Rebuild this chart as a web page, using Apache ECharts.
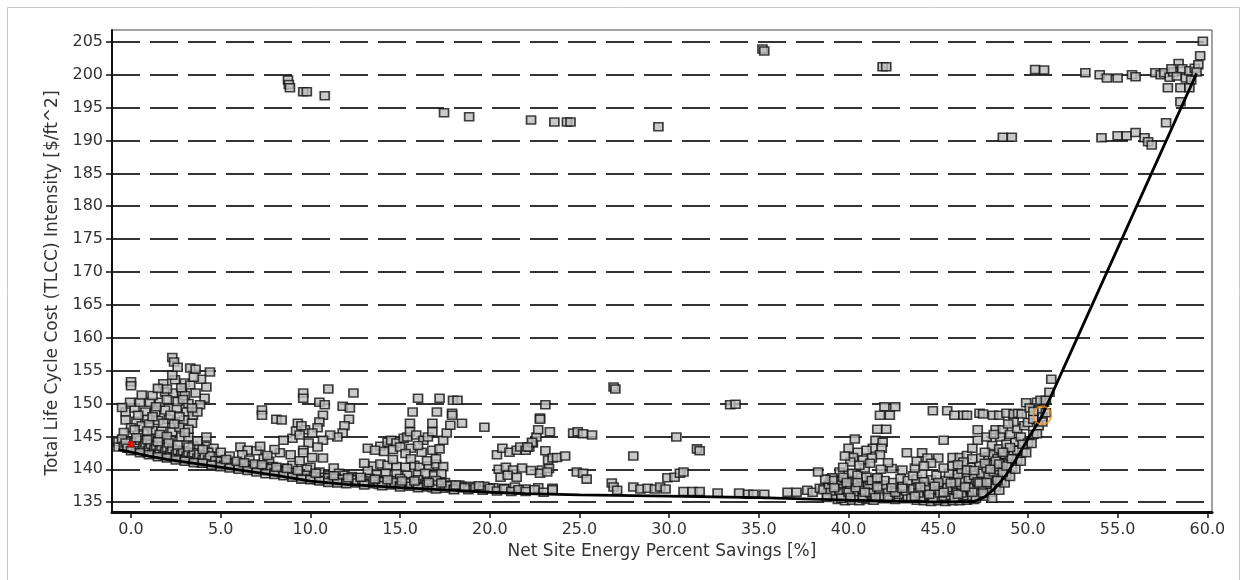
<!DOCTYPE html>
<html>
<head>
<meta charset="utf-8">
<title>TLCC Intensity vs Net Site Energy Savings</title>
<script src="https://cdn.jsdelivr.net/npm/echarts@6/dist/echarts.min.js"></script>
<style>
  html, body { margin: 0; padding: 0; background: #fff; }
  #chart { width: 1247px; height: 580px; }
</style>
</head>
<body>
<div id="chart"></div>
<script>
// tick values
var xTicks = [0, 5, 10, 15, 20, 25, 30, 35, 40, 45, 50, 55, 60];
var yTicks = [135, 140, 145, 150, 155, 160, 165, 170, 175, 180, 185, 190, 195, 200, 205];

// pareto front
var frontLine = [
  [-0.7, 143.0], [0, 142.6], [1, 142.0], [2, 141.5], [4, 140.7], [6, 139.9], [8, 139.1],
  [10, 138.2], [12, 137.7], [15, 137.2], [18, 136.8], [20, 136.5], [22, 136.3], [25, 136.1],
  [30, 135.9], [35, 135.7], [40, 135.3], [45, 135.0], [47, 135.1], [47.6, 135.8], [48.2, 137.2],
  [48.8, 139.2], [49.4, 141.8], [50.0, 144.6], [50.5, 146.8], [50.8, 148.2], [59.4, 200.2]
];

// dense band just above the front
var bandPts = [
  [-0.7, 144.2], [-0.7, 143.4], [-0.5, 144.6], [-0.4, 143.5], [-0.3, 144.0], [-0.2, 143.2], [0.1, 143.1],
  [0.2, 144.1], [0.3, 142.9], [0.4, 143.6], [0.5, 144.4], [0.6, 142.8], [0.7, 143.4], [0.8, 144.0],
  [0.9, 142.5], [1.0, 143.1], [1.1, 143.8], [1.2, 142.4], [1.3, 143.0], [1.4, 143.6], [1.5, 142.2],
  [1.6, 142.9], [1.7, 143.5], [1.8, 142.0], [1.9, 142.7], [2.0, 143.3], [2.1, 141.9], [2.2, 142.5],
  [2.3, 143.1], [2.4, 141.8], [2.5, 142.3], [2.6, 142.9], [2.7, 141.6], [2.8, 142.2], [2.9, 142.8],
  [3.0, 141.5], [3.1, 142.0], [3.2, 142.6], [3.3, 141.3], [3.4, 141.9], [3.5, 142.5], [3.6, 141.2],
  [3.7, 141.7], [3.8, 142.3], [3.9, 141.0], [4.0, 141.5], [4.1, 142.1], [4.2, 140.9], [4.3, 141.4],
  [4.4, 142.0], [4.5, 140.8], [4.7, 141.3], [4.9, 140.7], [5.0, 141.2], [5.2, 140.6], [5.4, 141.0],
  [5.6, 140.5], [5.8, 140.9], [6.0, 140.3], [6.2, 140.8], [6.4, 140.2], [6.6, 140.6], [6.8, 140.0],
  [7.0, 140.5], [7.2, 139.8], [7.4, 140.3], [7.6, 139.7], [7.8, 140.1], [8.0, 139.5], [8.2, 139.9],
  [8.4, 139.3], [8.6, 139.7], [8.8, 139.1], [9.0, 139.5], [9.2, 138.9], [9.4, 139.3], [9.6, 138.7],
  [9.8, 139.1], [10.0, 138.5], [10.2, 138.9], [10.4, 138.4], [10.6, 138.8], [10.8, 138.3], [11.0, 138.7],
  [11.2, 138.2], [11.4, 138.6], [11.6, 138.1], [11.8, 138.5], [12.0, 138.0], [12.3, 138.4], [12.6, 137.9],
  [12.9, 138.3], [13.2, 137.8], [13.5, 138.2], [13.8, 137.7], [14.1, 138.1], [14.4, 137.6], [14.7, 138.0],
  [15.0, 137.5], [15.3, 137.9], [15.6, 137.4], [15.9, 137.8], [16.2, 137.3], [16.5, 137.7], [16.8, 137.2],
  [17.1, 137.6], [17.4, 137.1], [17.7, 137.5], [18.0, 137.0], [18.4, 137.4], [18.8, 136.9], [19.2, 137.2],
  [19.6, 136.8], [20.0, 137.1], [20.4, 136.7], [20.8, 137.0], [21.2, 136.6], [21.6, 136.9], [22.0, 136.6],
  [22.5, 136.9], [23.0, 136.5], [23.5, 136.9],
  [0.0, 142.8], [0.5, 142.5], [1.0, 142.2], [1.5, 141.9], [2.0, 141.7], [2.5, 141.4], [3.0, 141.2],
  [3.5, 141.0], [4.0, 140.9], [4.5, 140.6], [5.0, 140.4], [5.5, 140.2], [6.0, 140.0], [6.5, 139.8],
  [7.0, 139.6], [7.5, 139.3], [8.0, 139.2], [8.5, 139.0], [9.0, 138.8], [9.5, 138.5], [10.0, 138.4],
  [10.5, 138.2], [11.0, 138.0], [11.5, 137.9], [12.0, 137.8], [13.0, 137.6], [14.0, 137.5], [15.0, 137.3],
  [16.0, 137.2], [17.0, 137.0], [18.0, 136.9],
  [0.3, 144.8], [0.9, 144.5], [1.5, 144.2], [2.1, 144.0], [2.6, 143.7], [3.2, 143.4], [4.0, 143.0],
  [5.3, 141.5], [5.9, 141.2], [6.3, 141.0], [6.9, 140.8], [7.3, 140.7], [8.1, 140.3], [8.7, 140.1],
  [9.3, 139.8], [10.3, 139.4], [11.3, 139.0], [12.1, 138.7], [12.8, 138.8], [13.6, 138.5], [14.3, 138.4],
  [15.1, 138.2], [15.8, 138.2], [16.6, 138.0], [17.3, 137.9], [18.1, 137.6], [18.6, 137.2], [19.4, 137.5]
];

// fan near 0-5 %
var fanA = [
  [-0.3, 148.7], [0.2, 149.3], [0.8, 148.7], [1.35, 148.7], [1.9, 149.0], [2.55, 149.3], [3.1, 148.7], [3.45, 148.2],
  [-0.05, 150.2], [0.5, 150.2], [1.05, 150.2], [1.6, 150.2], [1.9, 151.7], [2.35, 151.6], [2.85, 151.6],
  [2.45, 153.6], [3.0, 153.1], [3.3, 152.8], [4.2, 152.5], [2.3, 154.3], [2.3, 157.0], [2.4, 156.3],
  [2.6, 155.5], [3.3, 155.4], [3.6, 155.2], [4.4, 154.8], [4.1, 150.8], [3.85, 149.8], [3.7, 148.7],
  [-0.3, 147.5], [0.3, 147.3], [0.9, 147.6], [1.5, 147.4], [2.1, 147.6], [2.6, 147.2], [2.95, 147.5],
  [0.0, 146.3], [0.6, 146.6], [1.2, 145.9], [1.7, 145.8], [2.3, 145.7], [2.7, 146.4], [1.6, 145.3],
  [2.8, 144.9], [3.2, 144.9], [0.4, 145.2], [1.0, 144.7], [-0.4, 145.6], [0.0, 153.3], [0.0, 152.7],
  [3.45, 143.6], [4.2, 143.5], [4.0, 141.9], [4.6, 141.9], [5.1, 141.3], [5.4, 140.9],
  [1.2, 151.2], [2.0, 150.6], [2.6, 150.3], [3.2, 150.0], [3.0, 151.2], [3.6, 151.6], [2.8, 152.4],
  [1.4, 149.5], [2.2, 148.2], [2.7, 148.0], [3.4, 147.0], [3.2, 146.1], [1.0, 146.9], [0.4, 148.2],
  [-0.5, 149.4], [1.8, 153.0], [2.0, 152.2], [3.9, 153.7], [3.5, 154.0], [4.6, 143.2], [5.0, 142.6],
  [5.5, 142.0], [3.8, 143.2], [4.3, 142.6], [4.2, 144.9], [3.7, 144.3], [2.2, 144.4], [0.9, 145.8],
  [0.6, 151.3], [1.5, 152.3], [2.9, 150.6], [3.4, 149.3], [1.8, 147.0], [0.2, 146.0], [2.4, 146.9],
  [3.0, 145.6], [1.2, 148.0], [2.0, 145.0]
];

// fan near 6-12 %
var fanB = [
  [6.1, 143.4], [6.5, 142.9], [6.2, 142.2], [6.8, 140.3], [7.4, 141.7], [7.3, 149.0], [7.3, 148.2],
  [8.1, 147.6], [8.4, 147.5], [9.6, 151.6], [9.6, 150.8], [9.3, 147.0], [9.7, 146.0], [9.0, 144.7],
  [8.5, 144.4], [8.3, 142.5], [8.9, 142.2], [9.0, 140.6], [8.5, 140.2], [11.0, 152.2], [12.4, 151.6],
  [10.5, 150.2], [10.8, 149.8], [10.7, 148.2], [10.5, 147.2], [10.4, 146.3], [10.1, 145.5],
  [11.8, 149.6], [12.2, 149.3], [12.15, 147.6], [11.9, 146.6], [11.8, 145.5], [11.5, 144.9],
  [11.1, 145.2], [10.7, 144.4], [9.9, 144.0], [10.4, 143.4], [9.6, 142.9], [9.2, 145.8], [9.5, 146.6],
  [9.4, 145.2], [9.6, 142.5], [10.1, 141.8], [10.7, 141.7], [11.3, 140.2], [10.0, 140.3], [10.5, 139.6],
  [10.0, 138.8], [7.0, 142.8], [7.7, 141.2], [7.9, 140.4], [8.0, 143.0], [7.2, 143.5], [6.6, 141.4],
  [7.6, 142.1], [9.4, 141.3], [9.8, 140.0], [11.6, 139.4], [11.9, 139.1], [12.3, 138.9], [12.65, 138.7],
  [13.3, 138.6], [13.9, 138.3], [11.0, 139.0], [10.7, 138.7]
];

// fan near 13-19 %
var fanC = [
  [13.2, 143.2], [13.9, 143.5], [14.3, 144.1], [14.5, 144.4], [14.8, 144.0], [15.2, 144.7], [15.4, 144.9],
  [15.55, 145.7], [15.55, 147.0], [15.7, 148.7], [16.0, 150.8], [15.9, 145.2], [16.3, 144.4], [16.55, 144.9],
  [16.8, 145.7], [16.8, 147.0], [17.05, 148.7], [17.2, 150.8], [17.4, 144.4], [17.6, 145.5], [17.8, 146.7],
  [17.9, 148.5], [17.95, 150.5], [18.2, 150.5], [17.9, 148.2], [18.45, 147.0], [16.2, 142.6], [16.8, 142.9],
  [17.2, 143.1], [14.6, 143.0], [15.0, 143.4], [15.6, 143.2], [16.0, 143.6], [14.1, 142.7], [15.3, 142.4],
  [13.6, 142.9], [13.5, 140.5], [13.9, 140.8], [14.3, 140.6], [14.8, 140.4], [15.3, 140.3], [15.8, 140.6],
  [16.1, 140.3], [16.6, 140.5], [17.0, 140.8], [17.4, 140.4], [13.7, 139.2], [14.2, 139.4], [14.8, 139.3],
  [15.4, 139.1], [16.0, 139.2], [16.4, 139.4], [16.9, 139.0], [17.3, 139.3], [14.5, 138.3], [15.0, 138.6],
  [15.5, 138.1], [16.0, 138.4], [16.5, 138.0], [17.0, 138.3], [17.5, 138.0], [17.8, 137.6], [18.3, 137.6],
  [18.9, 137.4], [16.5, 141.3], [15.6, 141.6], [14.6, 141.5], [17.0, 141.6], [13.2, 139.8], [13.0, 140.9]
];

// fan near 20-26 %
var fanD = [
  [19.7, 146.4], [20.4, 142.2], [20.7, 143.2], [21.1, 142.6], [21.5, 142.9], [21.7, 143.4], [22.0, 142.9],
  [22.2, 143.4], [22.4, 144.0], [22.6, 144.9], [22.7, 146.0], [22.8, 147.8], [23.1, 149.8], [22.8, 147.6],
  [23.35, 145.7], [22.35, 144.1], [22.1, 143.4], [23.1, 142.8], [23.25, 141.4], [23.5, 141.7], [23.75, 141.8],
  [24.2, 142.0], [24.65, 145.5], [24.9, 145.7], [25.2, 145.4], [25.7, 145.2], [24.85, 139.6], [25.2, 139.4],
  [25.4, 138.5], [22.9, 139.9], [22.8, 139.4], [20.5, 140.0], [20.9, 140.3], [21.3, 139.9], [21.8, 140.2],
  [22.3, 139.8], [23.3, 140.1], [20.6, 138.8], [21.0, 139.1], [21.5, 138.8], [23.2, 139.6], [19.2, 137.2],
  [19.7, 137.4], [20.2, 137.2], [20.8, 137.1], [21.4, 137.3], [22.0, 137.0], [22.7, 137.2], [23.5, 137.1]
];

// sparse points 26-39 %
var midPts = [
  [26.9, 152.5], [27.0, 152.2], [28.0, 142.0], [26.8, 137.9], [26.9, 137.3], [27.1, 136.8], [28.0, 137.3],
  [28.4, 137.0], [28.8, 137.1], [29.2, 137.0], [29.5, 137.3], [29.8, 137.0], [29.9, 138.7], [30.3, 138.8],
  [30.6, 139.4], [30.8, 139.6], [30.4, 144.9], [31.55, 143.1], [31.7, 142.8], [30.8, 136.6], [31.3, 136.6],
  [31.7, 136.6], [33.4, 149.8], [33.7, 149.9], [32.7, 136.4], [33.9, 136.4], [34.4, 136.2], [34.7, 136.2],
  [35.3, 136.2], [36.6, 136.5], [37.1, 136.5], [37.7, 136.8], [38.0, 136.5], [38.4, 137.1], [38.9, 137.1],
  [39.2, 136.2]
];

// large cluster 38-51 %
var clusterE = [
  [39.4, 135.4], [39.8, 135.2], [40.2, 135.3], [40.6, 135.2], [41.0, 135.4], [41.4, 135.3], [42.0, 135.5],
  [42.6, 135.4], [43.2, 135.5], [43.8, 135.3], [44.2, 135.2], [44.6, 135.1], [45.0, 135.2], [45.4, 135.1],
  [45.8, 135.2], [46.2, 135.2], [46.6, 135.3], [47.0, 135.4],
  [38.8, 136.1], [39.2, 135.9], [39.6, 136.0], [40.0, 136.2], [40.4, 135.8], [40.8, 136.0], [41.3, 136.1],
  [41.8, 135.9], [42.3, 136.0], [42.8, 136.2], [43.3, 135.9], [43.7, 136.0], [44.1, 135.8], [44.5, 136.0],
  [44.9, 135.8], [45.3, 135.9], [45.7, 136.0], [46.1, 135.8], [46.5, 136.0], [46.9, 135.9], [47.3, 136.0],
  [38.6, 136.9], [39.0, 136.7], [39.5, 136.8], [39.9, 137.0], [40.3, 136.6], [40.8, 136.9], [41.2, 136.7],
  [41.7, 137.0], [42.2, 136.6], [42.7, 136.9], [43.2, 136.7], [43.6, 137.0], [44.0, 136.8], [44.4, 136.6],
  [44.8, 136.9], [45.2, 136.7], [45.6, 136.9], [46.0, 136.6], [46.4, 136.8], [46.8, 137.0], [47.2, 136.7],
  [47.6, 136.9],
  [38.9, 137.7], [39.3, 137.5], [39.7, 137.8], [40.1, 137.6], [40.6, 137.4], [41.1, 137.7], [41.9, 137.6],
  [43.0, 137.5], [43.9, 137.7], [44.3, 137.5], [44.7, 137.8], [45.1, 137.6], [45.5, 137.4], [45.9, 137.7],
  [46.3, 137.5], [46.7, 137.8], [47.1, 137.6], [47.5, 137.4], [47.9, 137.7],
  [39.0, 138.5], [39.4, 138.3], [39.8, 138.6], [40.3, 138.4], [40.7, 138.7], [41.2, 138.3], [41.6, 138.6],
  [42.0, 138.3], [42.5, 138.0], [42.9, 138.6], [43.3, 138.3], [43.8, 138.5], [44.6, 138.4], [45.4, 138.3],
  [45.9, 138.6], [46.3, 138.3], [46.7, 138.6], [47.1, 138.4], [47.5, 138.7], [47.9, 138.4], [48.2, 138.8],
  [39.5, 139.6], [40.2, 139.4], [40.5, 139.1], [41.0, 138.8], [43.6, 139.0], [44.1, 139.3], [44.9, 139.1],
  [45.6, 139.4], [46.1, 139.2], [46.6, 139.5], [47.0, 139.1], [47.4, 139.4], [47.8, 139.2], [48.1, 139.6],
  [48.4, 139.9],
  [42.4, 140.1], [43.0, 139.9], [43.7, 140.2], [45.3, 140.2], [45.8, 140.5], [46.3, 140.0], [46.8, 140.3],
  [47.3, 140.6], [47.7, 140.2], [48.0, 140.8], [48.3, 140.4], [48.6, 140.9], [48.9, 141.1],
  [43.25, 142.5], [44.1, 142.5], [44.4, 141.7], [45.0, 141.7], [45.8, 141.8], [46.2, 141.8], [46.6, 142.1],
  [46.9, 141.6], [47.4, 141.7], [47.8, 141.9], [48.05, 142.2], [48.3, 141.6], [48.7, 142.3], [49.0, 142.0],
  [49.2, 142.8], [47.6, 140.9], [46.4, 141.1], [43.8, 141.2], [44.6, 140.9], [44.2, 140.5],
  [46.9, 143.2], [47.2, 144.4], [47.2, 146.0], [45.3, 144.4], [48.2, 146.0], [48.6, 146.0], [48.45, 144.9],
  [48.0, 143.6], [48.4, 143.1], [48.8, 143.8], [49.3, 144.2], [49.6, 144.9], [49.0, 145.3], [49.4, 146.2],
  [49.8, 146.6], [50.0, 147.1], [49.2, 147.2], [48.9, 146.9], [50.3, 147.6], [47.7, 144.9], [48.1, 145.3],
  [44.7, 148.9], [45.5, 148.9], [45.9, 148.2], [46.4, 148.2], [46.6, 148.2], [47.3, 148.5], [47.5, 148.4],
  [48.05, 148.2], [48.4, 148.2], [48.8, 148.5], [49.2, 148.4], [49.45, 148.5], [49.65, 148.4], [49.9, 150.1],
  [50.5, 150.2], [50.9, 150.2], [50.1, 149.3], [50.7, 150.5], [51.0, 150.5], [51.2, 151.7], [51.3, 153.7],
  [50.6, 149.0], [50.8, 148.0], [50.3, 148.8],
  [42.0, 149.5], [42.6, 149.5], [41.75, 148.2], [42.3, 148.2], [41.6, 146.1], [42.1, 146.1], [40.35, 144.6],
  [41.5, 144.4], [41.9, 144.1], [41.35, 143.2], [41.85, 143.2], [41.0, 142.9], [40.5, 142.6], [41.75, 142.2],
  [41.3, 141.7], [40.8, 141.4], [40.25, 141.8], [40.1, 141.1], [39.7, 140.3], [39.1, 138.7], [39.1, 138.3],
  [39.7, 138.8], [41.3, 138.3], [41.6, 138.7], [40.9, 140.2], [40.6, 140.6], [41.2, 140.9], [42.2, 141.0],
  [41.8, 140.0], [38.7, 138.5], [38.3, 139.6], [40.0, 143.2], [39.8, 142.0],
  [47.6, 135.9], [47.9, 136.5], [48.2, 137.3], [48.5, 138.2], [48.8, 139.2], [49.1, 140.3], [49.4, 141.5],
  [49.7, 142.7], [50.0, 144.0], [50.3, 145.3], [50.6, 146.6], [48.0, 135.6], [48.4, 136.8], [48.7, 137.9],
  [49.0, 138.9], [49.3, 140.0], [49.6, 141.2], [49.9, 142.5], [50.2, 143.9], [50.5, 145.4], [50.8, 147.2],
  [51.0, 148.6],
  [43.5, 135.6], [43.9, 136.4], [44.3, 137.2], [44.7, 135.6], [45.1, 136.4], [45.5, 137.2], [45.9, 135.6],
  [46.3, 136.4], [46.7, 137.2], [47.1, 135.6], [47.5, 136.4], [39.6, 135.6], [40.0, 136.5], [40.4, 137.2],
  [40.8, 135.6], [41.2, 136.4], [41.6, 137.3], [42.2, 135.7], [42.6, 136.5], [43.0, 137.1], [39.2, 137.2],
  [38.8, 135.7], [46.0, 138.0], [45.0, 138.0], [44.2, 138.1], [47.2, 138.1], [46.6, 139.9], [47.9, 140.0],
  [48.2, 141.2], [48.6, 139.5],
  [43.7, 135.9], [44.5, 136.2], [45.3, 136.5], [46.1, 136.2], [46.9, 136.5], [44.0, 137.3], [44.8, 137.4],
  [45.7, 137.9], [46.5, 137.3], [47.3, 137.9], [40.1, 135.7], [40.9, 136.5], [41.5, 135.7], [42.4, 137.2],
  [39.9, 138.0], [40.5, 138.0], [47.7, 138.0], [48.3, 138.3], [47.0, 139.8], [48.4, 140.8], [48.8, 140.5],
  [49.1, 141.6], [49.4, 142.9], [49.7, 143.8], [49.0, 143.3], [48.6, 142.6], [47.6, 142.6], [46.1, 140.7]
];

// high cost points
var topPts = [
  [8.75, 199.2], [8.8, 198.5], [8.86, 198.0], [9.6, 197.4], [9.8, 197.4], [10.8, 196.8], [17.45, 194.2],
  [18.85, 193.6], [22.3, 193.1], [23.6, 192.8], [24.3, 192.8], [24.5, 192.8], [29.4, 192.1], [35.2, 203.9],
  [35.3, 203.6], [41.9, 201.2], [42.1, 201.2], [48.6, 190.5], [49.1, 190.5], [50.4, 200.8], [50.9, 200.7],
  [53.2, 200.3], [54.0, 200.0], [54.4, 199.5], [55.0, 199.5], [55.8, 200.0], [56.0, 199.7], [57.1, 200.3],
  [57.4, 200.0], [57.6, 200.3], [57.9, 199.6], [58.1, 200.4], [58.3, 199.8], [58.4, 201.7], [58.6, 200.9],
  [58.8, 199.5], [59.0, 200.6], [59.1, 199.2], [59.3, 201.0], [58.0, 200.9], [57.8, 198.0], [58.5, 198.0],
  [59.0, 198.0], [59.6, 202.9], [59.5, 201.5], [59.4, 200.4], [59.75, 205.1], [58.5, 195.9], [57.7, 192.7],
  [54.1, 190.4], [55.0, 190.7], [55.5, 190.7], [56.0, 191.2], [56.5, 190.4], [56.7, 189.8], [56.9, 189.3]
];

var baselinePt = [[0.0, 143.8]];
var selectedPt = [[50.8, 148.2]];

var allPts = [].concat(topPts, midPts, fanD, fanC, fanB, fanA, clusterE, bandPts);

var txt = '#333333';
var fontFam = 'DejaVu Sans';

var chart = echarts.init(document.getElementById('chart'));
chart.setOption({
    animation: false,
    backgroundColor: '#ffffff',
    graphic: [{
        type: 'rect',
        shape: {x: 7.5, y: 7.5, width: 1232, height: 600},
        style: {fill: 'none', stroke: '#c8c8c8', lineWidth: 1},
        silent: true
    }],
    grid: {
        left: 112, top: 30, right: 35, bottom: 68,
        show: true, borderColor: '#444', borderWidth: 1
    },
    xAxis: {
        type: 'value',
        min: -1.06,
        max: 60.26,
        name: 'Net Site Energy Percent Savings [%]',
        nameLocation: 'middle',
        nameGap: 31,
        nameTextStyle: {color: txt, fontSize: 17, fontFamily: fontFam},
        axisLine: {onZero: false, lineStyle: {color: '#111', width: 3}},
        axisTick: {show: true, length: 6, customValues: xTicks, lineStyle: {color: '#111', width: 1.5}},
        axisLabel: {
            customValues: xTicks, color: txt, fontSize: 16, fontFamily: fontFam, margin: 10,
            formatter: function (v) { return v.toFixed(1); }
        },
        splitLine: {show: false}
    },
    yAxis: {
        type: 'value',
        min: 133.5,
        max: 206.8,
        name: 'Total Life Cycle Cost (TLCC) Intensity [$/ft^2]',
        nameLocation: 'middle',
        nameGap: 48,
        nameTextStyle: {color: txt, fontSize: 17, fontFamily: fontFam, padding: [0, 24, 0, 0]},
        axisLine: {onZero: false, lineStyle: {color: '#111', width: 2}},
        axisTick: {show: true, length: 6, customValues: yTicks, lineStyle: {color: '#111', width: 1.5}},
        axisLabel: {customValues: yTicks, color: txt, fontSize: 16, fontFamily: fontFam, margin: 9},
        splitLine: {
            show: true, customValues: yTicks,
            lineStyle: {color: '#333', width: 2, type: [28, 10]}
        }
    },
    series: [
        {
            type: 'scatter',
            data: allPts,
            symbol: 'rect',
            symbolSize: [9, 8],
            itemStyle: {color: '#bdbdbd', borderColor: '#111', borderWidth: 1.6},
            z: 2
        },
        {
            type: 'line',
            data: frontLine,
            showSymbol: false,
            symbol: 'none',
            lineStyle: {color: '#000', width: 2.8},
            z: 3
        },
        {
            type: 'scatter',
            data: baselinePt,
            symbol: 'rect',
            symbolSize: 6,
            itemStyle: {color: '#ff0000'},
            z: 4
        },
        {
            type: 'scatter',
            data: selectedPt,
            symbol: 'circle',
            symbolSize: 18,
            itemStyle: {color: 'rgba(0,0,0,0)', borderColor: '#ff8c00', borderWidth: 1.6},
            z: 4
        }
    ]
});
</script>
</body>
</html>
